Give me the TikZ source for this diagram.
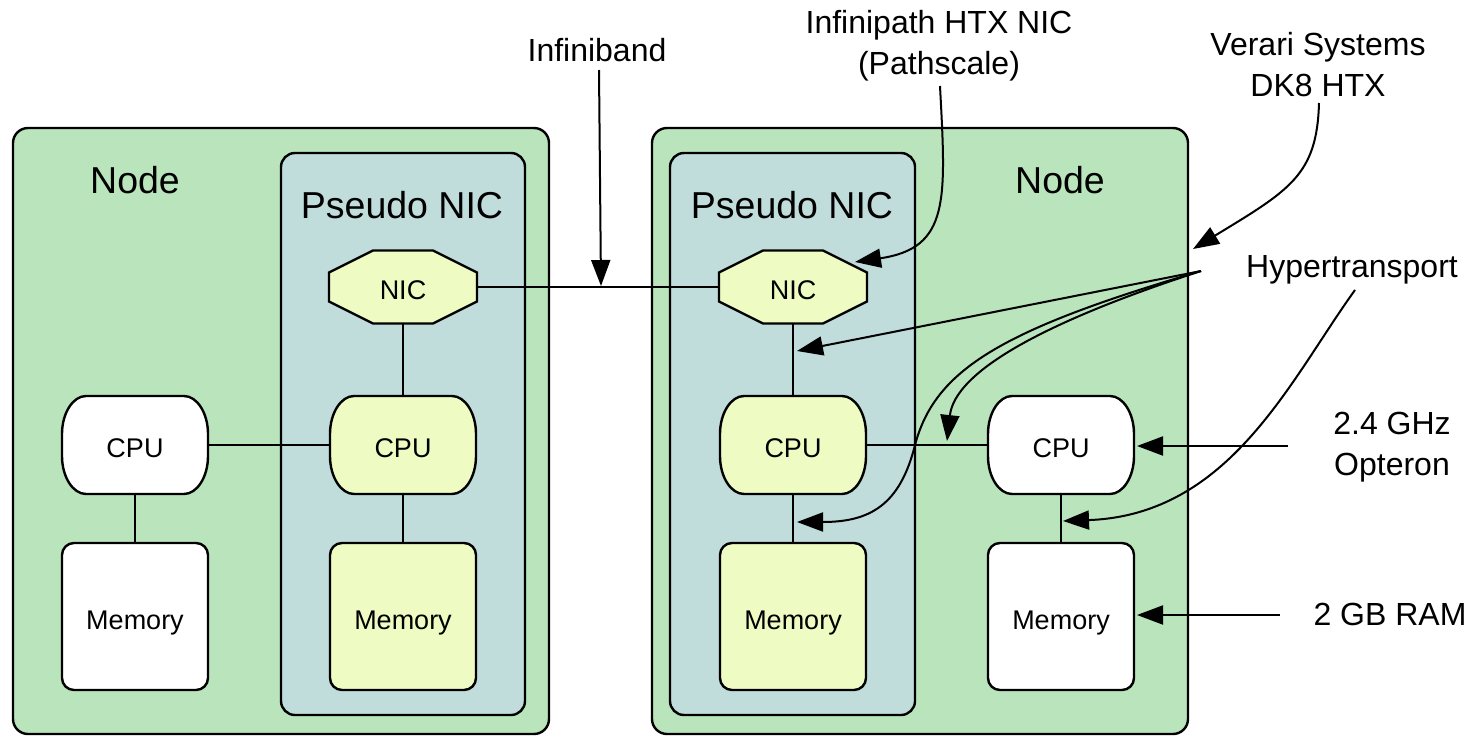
\documentclass[tikz,border=0pt]{standalone}
\usepackage{fontspec}
\setmainfont{Liberation Sans}
\usetikzlibrary{arrows.meta}
\definecolor{nodegreen}{RGB}{185,228,188}
\definecolor{pnicblue}{RGB}{192,221,220}
\definecolor{chipyellow}{RGB}{238,251,194}
\tikzset{
  box/.style={draw=black, line width=2.4pt, inner sep=0pt},
  nodebox/.style={box, fill=nodegreen, rounded corners=15pt},
  pnicbox/.style={box, fill=pnicblue, rounded corners=14pt},
  title/.style={font=\fontsize{37.5}{40}\selectfont, inner sep=0pt},
  annot/.style={font=\fontsize{32}{41}\selectfont, align=center, inner sep=0pt},
  part/.style={font=\fontsize{27}{30}\selectfont, inner sep=0pt, text height=25pt, text depth=0pt},
  membox/.style={part, draw=black, line width=2.4pt, rounded corners=12pt, minimum width=146pt, minimum height=147pt},
  cpuhidden/.style={part, minimum width=146pt, minimum height=98pt},
  octhidden/.style={part, minimum width=148pt, minimum height=73pt},
  outline/.style={draw=black, line width=2.4pt},
  link/.style={line width=2pt},
  pointer/.style={line width=2pt, -{Triangle[length=26pt,width=19pt]}},
}
\newcommand\cpubody[3]{\path[outline, fill=#3, shift={(#1,#2)}] (-49,-49) -- (49,-49) .. controls (62,-49) and (73,-32) .. (73,-11) -- (73,11) .. controls (73,32) and (62,49) .. (49,49) -- (-49,49) .. controls (-62,49) and (-73,32) .. (-73,11) -- (-73,-11) .. controls (-73,-32) and (-62,-49) .. (-49,-49) -- cycle;}
\newcommand\octbody[2]{\path[outline, fill=chipyellow, shift={(#1,#2)}] (-30,-36.5) -- (30,-36.5) -- (74,-14.5) -- (74,14.5) -- (30,36.5) -- (-30,36.5) -- (-74,14.5) -- (-74,-14.5) -- cycle;}
\begin{document}
\begin{tikzpicture}[x=1pt,y=-1pt]
\useasboundingbox (0,0) rectangle (1476,736);
% containers
\node[nodebox, minimum width=536pt, minimum height=606pt] (nodeL) at (281,431) {};
\node[nodebox, minimum width=536pt, minimum height=606pt] (nodeR) at (920,431) {};
\node[pnicbox, minimum width=244pt, minimum height=562pt] (pnicL) at (403,434) {};
\node[pnicbox, minimum width=245pt, minimum height=562pt] (pnicR) at (792.5,434) {};
\node[title] (tNodeL) at (135,180) {Node};
\node[title] (tNodeR) at (1060,180) {Node};
\node[title] (tPnicL) at (402,205) {Pseudo NIC};
\node[title] (tPnicR) at (792,205) {Pseudo NIC};
% chips
\octbody{403}{287}
\node[octhidden] (nicL) at (403,287) {NIC};
\octbody{793}{287}
\node[octhidden] (nicR) at (793,287) {NIC};
\cpubody{135}{445}{white}
\node[cpuhidden] (cpuLL) at (135,445) {CPU};
\cpubody{403}{445}{chipyellow}
\node[cpuhidden] (cpuLP) at (403,445) {CPU};
\cpubody{793}{445}{chipyellow}
\node[cpuhidden] (cpuRP) at (793,445) {CPU};
\cpubody{1061}{445}{white}
\node[cpuhidden] (cpuRR) at (1061,445) {CPU};
\node[membox, fill=white] (memLL) at (135,616.5) {Memory};
\node[membox, fill=chipyellow] (memLP) at (403,616.5) {Memory};
\node[membox, fill=chipyellow] (memRP) at (793,616.5) {Memory};
\node[membox, fill=white] (memRR) at (1061,616.5) {Memory};
% connectors
\draw[link] (cpuLL.east) -- (cpuLP.west);
\draw[link] (cpuLL.south) -- (memLL.north);
\draw[link] (nicL.south) -- (cpuLP.north);
\draw[link] (cpuLP.south) -- (memLP.north);
\draw[link] (nicL.east) -- (nicR.west);
\draw[link] (nicR.south) -- (cpuRP.north);
\draw[link] (cpuRP.south) -- (memRP.north);
\draw[link] (cpuRP.east) -- (cpuRR.west);
\draw[link] (cpuRR.south) -- (memRR.north);
% annotations
\node[annot] (ib) at (597,50) {Infiniband};
\node[annot] (htx) at (939,45.5) {Infinipath HTX NIC\\(Pathscale)};
\node[annot] (verari) at (1318,64.5) {Verari Systems\\DK8 HTX};
\node[annot] (ht) at (1352,270) {Hypertransport};
\node[annot] (opt) at (1392,447) {2.4 GHz\\Opteron};
\node[annot] (ram) at (1390,614) {2 GB RAM};
\coordinate (ibS) at (599,70);
\coordinate (ibT) at (601,286);
\coordinate (htxS) at (940,86);
\coordinate (htxT) at (855,262);
\coordinate (verS) at (1319,103);
\coordinate (verT) at (1193,249);
\coordinate (fan) at (1201,271);
\coordinate (fanA) at (797,351);
\coordinate (fanB) at (947,441);
\coordinate (fanC) at (797,522);
\coordinate (fanX) at (915,445);
\coordinate (htS) at (1355,290);
\coordinate (htT) at (1063,521);
\coordinate (optS) at (1288,446);
\coordinate (optT) at (1137,446);
\coordinate (ramS) at (1280,615);
\coordinate (ramT) at (1137,615);
\draw[pointer] (ibS) -- (ibT);
\draw[pointer] (htxS) .. controls (946,200) and (950,248) .. (htxT);
\draw[pointer] (verS) .. controls (1317,175) and (1290,190) .. (verT);
\draw[pointer] (fan) -- (fanA);
\draw[pointer] (fan) .. controls (1050,320) and (955,370) .. (fanB);
\draw[pointer] (fan) .. controls (1000,330) and (935,370) .. (fanX) .. controls (900,505) and (870,522) .. (fanC);
\draw[pointer] (htS) .. controls (1290,380) and (1230,515) .. (htT);
\draw[pointer] (optS) -- (optT);
\draw[pointer] (ramS) -- (ramT);
\end{tikzpicture}
\end{document}
